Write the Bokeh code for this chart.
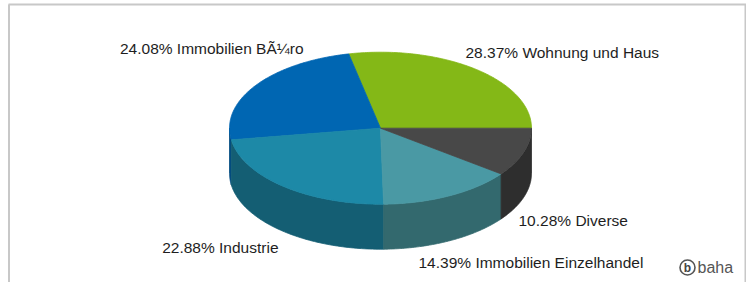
import numpy as np
from bokeh.plotting import figure
from bokeh.models import Range1d
from bokeh.embed import file_html
from bokeh.resources import INLINE
from bokeh.core.properties import value

# ---- data ----
categories = ["Wohnung und Haus", "Immobilien B\u00c3\u00bcro", "Industrie",
              "Immobilien Einzelhandel", "Diverse"]
shares = [28.37, 24.08, 22.88, 14.39, 10.28]

# ---- style / layout ----
top_colors = ["#84b817", "#0066b2", "#1d89a7", "#4a99a4", "#484848"]
side_colors = ["#5c810f", "#004a80", "#145e73", "#33696e", "#2e2e2e"]
CX, CY, RX, RY, DEPTH = 380.0, 127.7, 151.0, 76.0, 45.0
START = 0.0  # degrees, counter-clockwise from 3 o'clock
label_layout = [(465, 52, "left"), (303, 48, "right"), (278, 247, "right"),
                (418, 262, "left"), (518, 220, "left")]
FONT = value("Liberation Sans")

W, H = 746, 282
p = figure(width=W, height=H, x_range=Range1d(0, W), y_range=Range1d(H, 0),
           output_backend="svg", toolbar_location=None, x_axis_type=None,
           y_axis_type=None, min_border=0, outline_line_color=None,
           background_fill_color="white", border_fill_color="white")
p.grid.visible = False

# frame lines (left, top, right)
p.segment(x0=[8.5, 8, 745], y0=[4, 4, 4], x1=[8.5, 746, 745], y1=[282, 4, 282],
          line_color="#c8c8c8", line_width=2)

total = float(sum(shares))
angles = np.cumsum([0.0] + [s / total * 360.0 for s in shares]) + START


def ell(t_deg, dy=0.0):
    t = np.radians(t_deg)
    return CX + RX * np.cos(t), CY - RY * np.sin(t) + dy


# sides (front half only)
side_xs, side_ys, side_c = [], [], []
for i in range(len(shares)):
    a0, a1 = angles[i], angles[i + 1]
    lo, hi = max(a0, 180.0), min(a1, 360.0)
    if lo < hi:
        t = np.linspace(lo, hi, 80)
        x1, y1 = ell(t)
        x2, y2 = ell(t[::-1], DEPTH)
        side_xs.append(list(np.concatenate([x1, x2])))
        side_ys.append(list(np.concatenate([y1, y2])))
        side_c.append(side_colors[i])
p.patches(xs=side_xs, ys=side_ys, fill_color=side_c, line_color=side_c, line_width=0.8)

# top faces
top_xs, top_ys = [], []
for i in range(len(shares)):
    t = np.linspace(angles[i], angles[i + 1], 120)
    x, y = ell(t)
    top_xs.append([CX] + list(x))
    top_ys.append([CY] + list(y))
p.patches(xs=top_xs, ys=top_ys, fill_color=top_colors, line_color=top_colors, line_width=0.8)

# labels
for (lx, ly, al), cat, s in zip(label_layout, categories, shares):
    p.text(x=[lx], y=[ly], text=[f"{s:.2f}% {cat}"], text_font=FONT,
           text_font_size="15.5px", text_color="#1e1e1e", text_align=al,
           text_baseline="middle")

# logo
p.circle(x=[687], y=[267], radius=7.5, fill_color=None, line_color="#555555", line_width=1.6)
p.text(x=[687], y=[267], text=["b"], text_font=FONT, text_font_size="12px",
       text_font_style="bold", text_color="#444444", text_align="center",
       text_baseline="middle")
p.text(x=[697], y=[267], text=["baha"], text_font=FONT, text_font_size="16px",
       text_color="#555555", text_align="left", text_baseline="middle")

open("out.html", "w").write(file_html(p, INLINE))
